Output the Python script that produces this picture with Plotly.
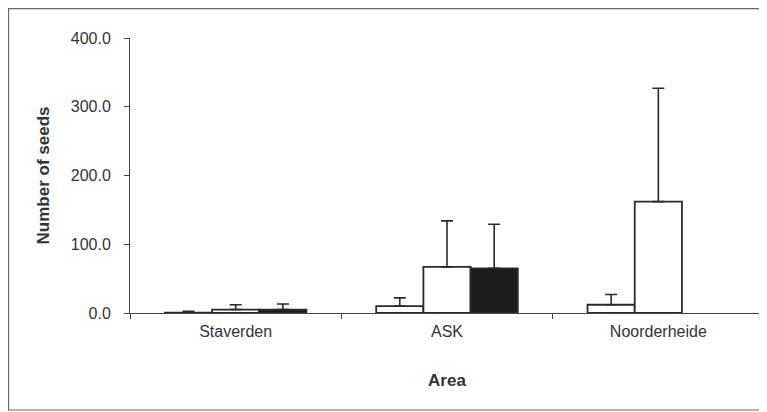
import plotly.graph_objects as go

areas = ["Staverden", "ASK", "Noorderheide"]
series1 = [0.5, 10, 12]
series1_err = [2, 12, 15]
series2 = [5, 67, 162]
series2_err = [7, 67, 165]
series3 = [5, 65, None]
series3_err = [8, 64, 0]
ytick_vals = [0, 100, 200, 300, 400]
ytick_text = ["0.0", "100.0", "200.0", "300.0", "400.0"]

line_col = "#2a2a2a"
fig = go.Figure()
for vals, errs, fill in [(series1, series1_err, "white"),
                         (series2, series2_err, "white"),
                         (series3, series3_err, "#1c1c1c")]:
    fig.add_trace(go.Bar(
        x=areas, y=vals,
        marker=dict(color=fill, line=dict(color=line_col, width=1.8)),
        error_y=dict(type="data", symmetric=False, array=errs,
                     arrayminus=[0] * len(errs), color=line_col,
                     thickness=1.6, width=6),
        showlegend=False,
    ))

fig.update_layout(
    width=767, height=412,
    margin=dict(l=122, r=11, t=30, b=107),
    paper_bgcolor="white", plot_bgcolor="white",
    barmode="group", bargap=0.33, bargroupgap=0,
    font=dict(family="Liberation Sans, Arial, sans-serif", color="#333333", size=16),
    xaxis=dict(
        range=[-0.5, 2.5], showline=True, linecolor="#444444", linewidth=1,
        ticks="outside", tickson="boundaries", ticklen=5, tickcolor="#444444",
        tickfont=dict(size=16), showgrid=False, ticklabelstandoff=4,
        title=dict(text="<b>Area</b>", font=dict(size=17), standoff=34),
    ),
    yaxis=dict(
        range=[0, 400], tickvals=ytick_vals, ticktext=ytick_text,
        showline=True, linecolor="#444444", linewidth=1,
        ticks="outside", ticklen=5, tickcolor="#444444", showgrid=False,
        zeroline=False, tickfont=dict(size=16), ticklabelstandoff=10,
        title=dict(text="<b>Number of seeds</b>", font=dict(size=17), standoff=16),
    ),
    shapes=[dict(type="rect", xref="paper", yref="paper",
                 x0=-0.1916, x1=1.12, y0=-0.3527, y1=1.107,
                 line=dict(color="#666666", width=1.2))],
)
fig.write_html("out.html")
